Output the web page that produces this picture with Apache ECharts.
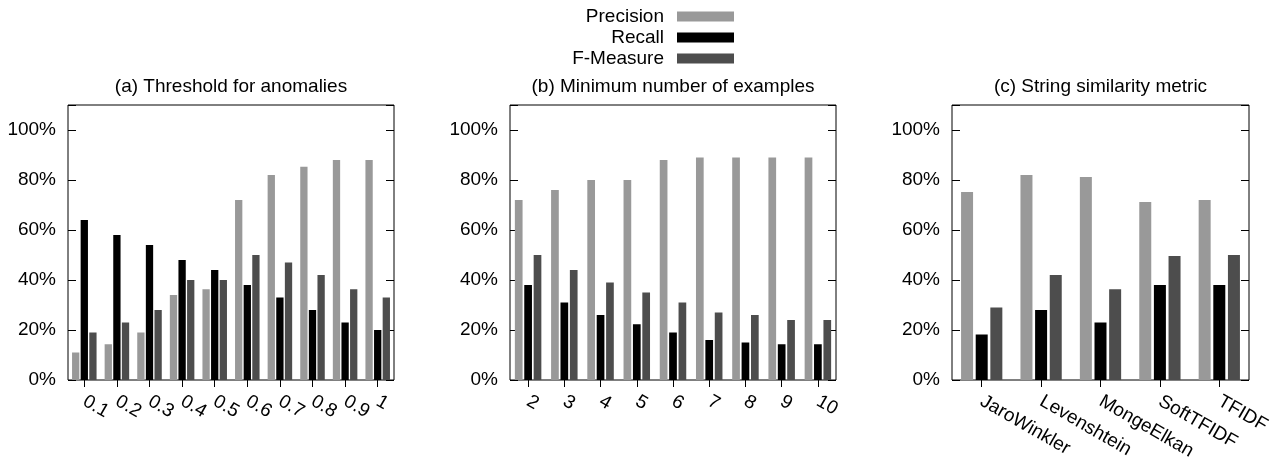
<!DOCTYPE html>
<html>
<head>
<meta charset="utf-8">
<script src="https://cdn.jsdelivr.net/npm/echarts@6/dist/echarts.min.js"></script>
<style>
html,body{margin:0;padding:0;background:#fff;}
#chart{width:1283px;height:463px;}
</style>
</head>
<body>
<div id="chart"></div>
<script>
const seriesNames = ['Precision', 'Recall', 'F-Measure'];
const panelTitles = ['(a) Threshold for anomalies', '(b) Minimum number of examples', '(c) String similarity metric'];

const catsA = ['0.1', '0.2', '0.3', '0.4', '0.5', '0.6', '0.7', '0.8', '0.9', '1'];
const precisionA = [11, 14.3, 19, 34, 36.3, 72, 82, 85.3, 88, 88];
const recallA = [64, 58, 54, 48, 44, 38, 33, 28, 23, 20];
const fmeasureA = [19, 23, 28, 40, 40, 50, 47, 42, 36.3, 33];

const catsB = ['2', '3', '4', '5', '6', '7', '8', '9', '10'];
const precisionB = [72, 76, 80, 80, 88, 89, 89, 89, 89];
const recallB = [38, 31, 26, 22.3, 19, 16, 15, 14.3, 14.3];
const fmeasureB = [50, 44, 39, 35, 31, 27, 26, 24, 24];

const catsC = ['JaroWinkler', 'Levenshtein', 'MongeElkan', 'SoftTFIDF', 'TFIDF'];
const precisionC = [75.2, 82, 81.2, 71.2, 72];
const recallC = [18.2, 28, 23, 38, 38];
const fmeasureC = [29, 42, 36.3, 49.6, 50];

const yTicks = [0, 20, 40, 60, 80, 100];

const colors = ['#999999', '#000000', '#4d4d4d'];
const FONT = '"Liberation Sans", Arial, Helvetica, sans-serif';
const FS = 19;

const panels = [
  {cats: catsA, data: [precisionA, recallA, fmeasureA], left: 68, width: 326, bw: 7.3, gap: '18%'},
  {cats: catsB, data: [precisionB, recallB, fmeasureB], left: 510, width: 326, bw: 7.7, gap: '22%'},
  {cats: catsC, data: [precisionC, recallC, fmeasureC], left: 952, width: 297, bw: 12, gap: '22%'}
];

const grids = [], xAxes = [], yAxes = [], series = [], titles = [];
panels.forEach((p, i) => {
  grids.push({left: p.left, top: 105, width: p.width, height: 275, show: true,
    borderColor: '#000', borderWidth: 1, backgroundColor: 'transparent', containLabel: false});
  titles.push({text: panelTitles[i], left: p.left + p.width / 2, top: 77, textAlign: 'center', padding: 0,
    textStyle: {fontFamily: FONT, fontSize: FS, fontWeight: 'normal', color: '#000'}});
  xAxes.push({type: 'category', gridIndex: i, data: p.cats, boundaryGap: true,
    axisLine: {show: false},
    axisTick: {show: true, alignWithLabel: true, inside: false, length: 7, lineStyle: {color: '#000', width: 1}},
    axisLabel: {rotate: -30, margin: 20, fontFamily: FONT, fontSize: FS, color: '#000', interval: 0},
    splitLine: {show: false}});
  yAxes.push({type: 'value', gridIndex: i, min: 0, max: 110, interval: 20, position: 'left',
    axisLine: {show: false},
    axisTick: {show: true, inside: true, length: 8, lineStyle: {color: '#000', width: 1}},
    axisLabel: {margin: 12, fontFamily: FONT, fontSize: FS, color: '#000',
      formatter: v => yTicks.indexOf(v) >= 0 ? v + '%' : ''},
    splitLine: {show: false}});
  yAxes.push({type: 'value', gridIndex: i, min: 0, max: 110, interval: 20, position: 'right',
    axisLine: {show: false},
    axisTick: {show: true, inside: true, length: 8, lineStyle: {color: '#000', width: 1}},
    axisLabel: {show: false}, splitLine: {show: false}});
  seriesNames.forEach((name, k) => {
    series.push({name: name, type: 'bar', xAxisIndex: i, yAxisIndex: i * 2, data: p.data[k],
      barWidth: p.bw, barGap: p.gap, itemStyle: {color: colors[k]}, animation: false,
      emphasis: {disabled: true}});
  });
});

const chart = echarts.init(document.getElementById('chart'), null, {renderer: 'canvas'});
chart.setOption({
  animation: false,
  color: colors,
  title: titles,
  legend: {
    orient: 'vertical', align: 'right', right: 549, top: 7, padding: 0,
    itemWidth: 57, itemHeight: 10, itemGap: 2, icon: 'rect',
    data: seriesNames,
    textStyle: {fontFamily: FONT, fontSize: FS, color: '#000', lineHeight: 18, padding: [0, 8, 0, 0]},
    selectedMode: false
  },
  grid: grids,
  xAxis: xAxes,
  yAxis: yAxes,
  series: series
});
</script>
</body>
</html>
